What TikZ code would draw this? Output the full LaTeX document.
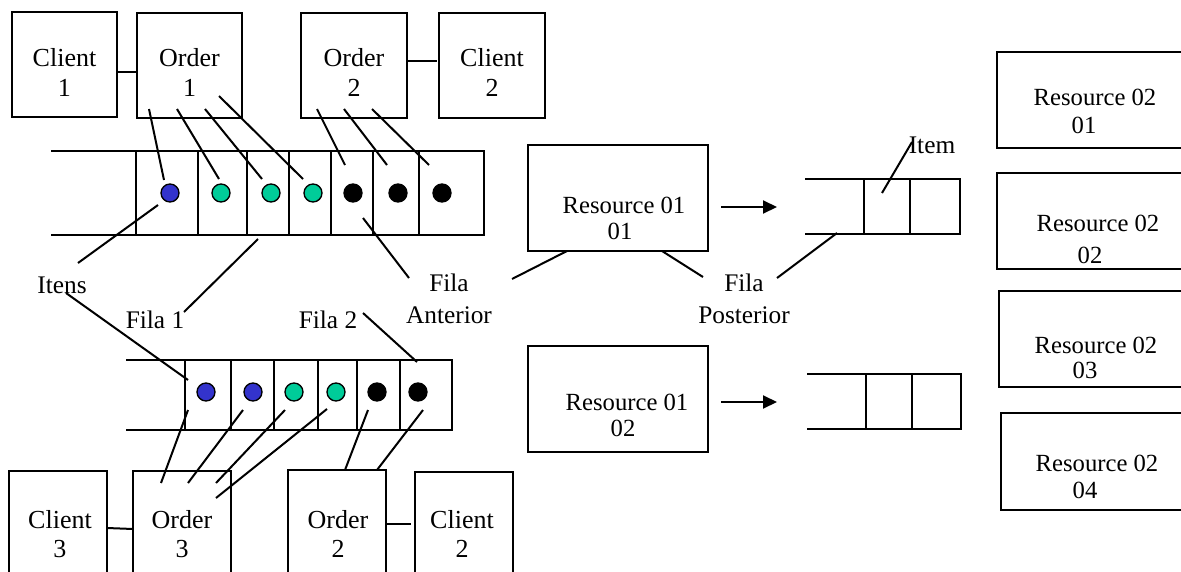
\documentclass[tikz,border=0pt]{standalone}
\usepackage{fontspec}
\setmainfont{Liberation Serif}
\usetikzlibrary{arrows.meta,fit}
\definecolor{dotblue}{RGB}{51,51,204}
\definecolor{dotgreen}{RGB}{0,204,153}
\begin{document}
\begin{tikzpicture}[x=0.75pt,y=-0.75pt,line width=1.5pt,
  box/.style={draw,rectangle,inner sep=0pt,line width=1.5pt},
  lbl/.style={font=\fontsize{19.5}{22}\selectfont,align=center,inner sep=0pt},
  fila/.style={font=\fontsize{19}{24}\selectfont,align=center,inner sep=0pt},
  res/.style={font=\fontsize{18.5}{20}\selectfont,inner sep=0pt},
  dot/.style={circle,draw,line width=1pt,minimum size=18*0.75pt,inner sep=0pt},
  arr/.style={-{Triangle[length=14*0.75pt,width=13*0.75pt]}}]
\useasboundingbox (0,0) rectangle (1181,571);

% ---------- top boxes ----------
\node[box,fit={(12,12) (117,117)}] (c1) {};
\node[box,fit={(137,13) (242,118)}] (o1) {};
\node[box,fit={(301,13) (407,118)}] (o2) {};
\node[box,fit={(439,13) (545,118)}] (c2) {};
\node[lbl] at (64.5,72.5) {Client\\1};
\node[lbl] at (189.5,72.5) {Order\\1};
\node[lbl] at (354,72.5) {Order\\2};
\node[lbl] at (492,72.5) {Client\\2};
\draw (c1.east |- 0,72) -- (o1.west |- 0,72);
\draw (o2.east |- 0,61) -- (437,61);

% ---------- queue 1 ----------
\draw (51,151) -- (484,151) -- (484,235) -- (51,235);
\foreach \x in {136,198,247,289,331,373,419} \draw (\x,151) -- (\x,235);
\node[dot,fill=dotblue]  (q1a) at (170,193) {};
\node[dot,fill=dotgreen] (q1b) at (221,193) {};
\node[dot,fill=dotgreen] (q1c) at (271,193) {};
\node[dot,fill=dotgreen] (q1d) at (313,193) {};
\node[dot,fill=black]    (q1e) at (353,193) {};
\node[dot,fill=black]    (q1f) at (398,193) {};
\node[dot,fill=black]    (q1g) at (442,193) {};

\draw (149,109) -- (164,180);
\draw (177,109) -- (219,179);
\draw (205,109) -- (262,179);
\draw (219,96)  -- (303,179);
\draw (317,109) -- (345,165);
\draw (344,109) -- (387,165);
\draw (372,109) -- (429,165);

% ---------- labels ----------
\node[fila] (itens) at (62,285) {Itens};
\node[fila] (fila1) at (155,320) {Fila 1};
\node[fila] (fila2) at (328,320) {Fila 2};
\node[fila] (filaant) at (449,299) {Fila\\Anterior};
\node[fila] (filapos) at (744,299) {Fila\\Posterior};
\node[fila] (item) at (932,145) {Item};

\draw (158,205) -- (78,263);
\draw (258,239) -- (184,312);
\draw (363,218) -- (409,278);
\draw (66,293) -- (188,380);
\draw (363,313) -- (417,362);

% ---------- queue 2 ----------
\draw (126,360) -- (452,360) -- (452,430) -- (126,430);
\foreach \x in {185,231,274,318,357,400} \draw (\x,360) -- (\x,430);
\node[dot,fill=dotblue]  (q2a) at (206,392) {};
\node[dot,fill=dotblue]  (q2b) at (253,392) {};
\node[dot,fill=dotgreen] (q2c) at (294,392) {};
\node[dot,fill=dotgreen] (q2d) at (336,392) {};
\node[dot,fill=black]    (q2e) at (377,392) {};
\node[dot,fill=black]    (q2f) at (418,392) {};

\draw (188,410) -- (161,483);
\draw (243,410) -- (188,483);
\draw (285,410) -- (216,483);
\draw (327,409) -- (216,498);
\draw (368,410) -- (345,470);
\draw (423,410) -- (377,470);

% ---------- bottom boxes ----------
\node[box,fit={(9,471) (107,620)}] (c3) {};
\node[box,fit={(133,471) (231,620)}] (o3) {};
\node[box,fit={(288,470) (386,620)}] (o2b) {};
\node[box,fit={(415,472) (513,620)}] (c2b) {};
\node[lbl] at (60,534) {Client\\3};
\node[lbl] at (182,534) {Order\\3};
\node[lbl] at (338,534) {Order\\2};
\node[lbl] at (462,534) {Client\\2};
\draw (107,528) -- (133,529);
\draw (386,524) -- (411,524);

% ---------- resources 01 ----------
\node[box,fit={(528,145) (708,251)}] (r11) {};
\node[res] at (624,205) {Resource 01};
\node[res] at (620,231) {01};
\node[box,fit={(528,346) (708,452)}] (r12) {};
\node[res] at (627,402) {Resource 01};
\node[res] at (623,428) {02};
\draw[arr] (721,207) -- (777,207);
\draw[arr] (721,402) -- (777,402);

\draw (567,251) -- (512,279);
\draw (662,251) -- (703,277);
\draw (777,278) -- (837,233);

% ---------- small queues ----------
\draw (805,179) -- (960,179) -- (960,234) -- (805,234);
\draw (864,179) -- (864,234);
\draw (910,179) -- (910,234);
\draw (912,142) -- (882,193);
\draw (807,374) -- (961,374) -- (961,429) -- (807,429);
\draw (866,374) -- (866,429);
\draw (912,374) -- (912,429);

% ---------- resources 02 ----------
\node[box,fit={(997,52) (1210,148)}] (r21) {};
\node[res] at (1095,97) {Resource 02};
\node[res] at (1084,125) {01};
\node[box,fit={(997,173) (1210,269)}] (r22) {};
\node[res] at (1098,223) {Resource 02};
\node[res] at (1090,255) {02};
\node[box,fit={(999,291) (1210,387)}] (r23) {};
\node[res] at (1096,345) {Resource 02};
\node[res] at (1085,370) {03};
\node[box,fit={(1001,413) (1210,510)}] (r24) {};
\node[res] at (1097,463) {Resource 02};
\node[res] at (1085,490) {04};
\end{tikzpicture}
\end{document}
